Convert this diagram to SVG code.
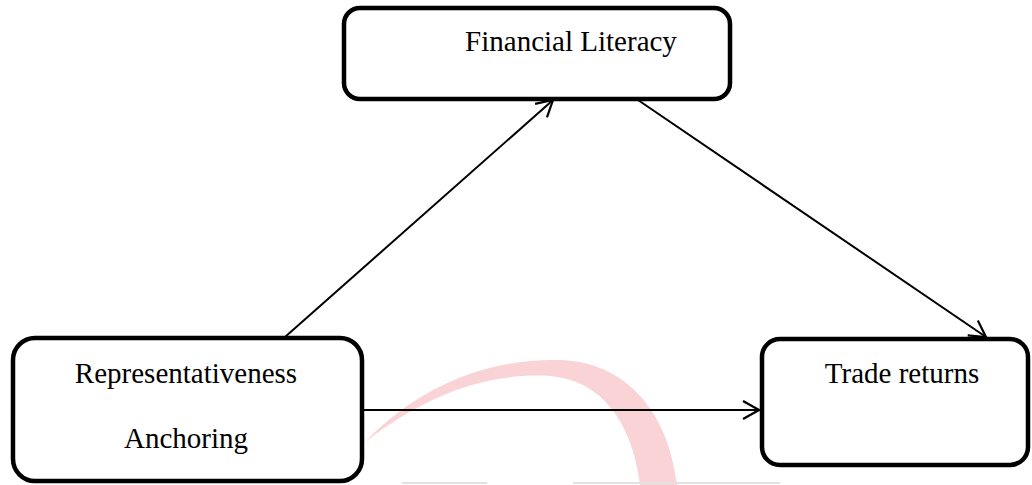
<svg xmlns="http://www.w3.org/2000/svg" width="1032" height="485" viewBox="0 0 1032 485">
<style>
.box{fill:#fff;stroke:#000;stroke-width:4.5}
.lbl{font-family:"Liberation Serif","Times New Roman",serif;font-size:29px;fill:#000;text-anchor:middle}
.edge{stroke:#000;stroke-width:2;fill:none}
.wm{fill:#fad3d6}
.wl{stroke:#e2e2e2;stroke-width:2}
</style>
<defs>
<marker id="arr" viewBox="0 0 20 20" refX="18" refY="10" markerWidth="20" markerHeight="20" markerUnits="userSpaceOnUse" orient="auto">
<path d="M2,1 L18,10 L2,19" fill="none" stroke="#000" stroke-width="2.2"/>
</marker>
</defs>
<rect width="1032" height="485" fill="#fff"/>
<g id="watermark">
<path class="wm" d="M365,442 C420,385 490,358 560,360 C625,362 668,410 677,485 L640,485 C632,420 600,380 550,376 C480,372 420,400 365,442 Z"/>
<line class="wl" x1="402" y1="483" x2="487" y2="483"/>
<line class="wl" x1="573" y1="483" x2="780" y2="483"/>
</g>
<g id="connectors">
<line class="edge" x1="285" y1="337" x2="553" y2="100" marker-end="url(#arr)"/>
<line class="edge" x1="638" y1="100" x2="986" y2="337" marker-end="url(#arr)"/>
<line class="edge" x1="362" y1="410" x2="759" y2="410" marker-end="url(#arr)"/>
</g>
<g id="financial-literacy">
<rect class="box" x="344" y="8" width="386" height="91" rx="16"/>
<text class="lbl" x="571" y="51">Financial Literacy</text>
</g>
<g id="representativeness-anchoring">
<rect class="box" x="13" y="338" width="349" height="143" rx="22"/>
<text class="lbl" x="186" y="383">Representativeness</text>
<text class="lbl" x="186" y="448">Anchoring</text>
</g>
<g id="trade-returns">
<rect class="box" x="762" y="339" width="266" height="126" rx="18"/>
<text class="lbl" x="902" y="383">Trade returns</text>
</g>
</svg>
